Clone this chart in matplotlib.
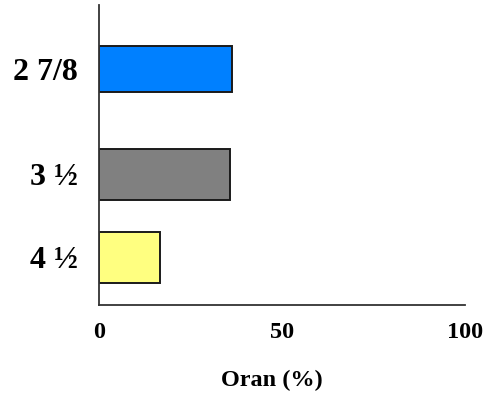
import matplotlib
matplotlib.use("Agg")
import matplotlib.pyplot as plt

# data
categories = ["2 7/8", "3 \u00bd", "4 \u00bd"]
values = [36.3, 35.8, 16.7]
colors = ["#0080ff", "#808080", "#ffff80"]
x_ticks = [0, 50, 100]

# layout (bar centres / heights in axis units, top of axis = 0)
bar_pos = [69.5, 174.5, 257.5]
bar_h = [46, 51, 51]

plt.rcParams['font.family'] = ['Liberation Serif', 'DejaVu Serif']

fig = plt.figure(figsize=(4.84, 4.03), dpi=100)
ax = fig.add_axes([99 / 484, 1 - 305 / 403, 366 / 484, 300 / 403])

ax.barh(bar_pos, values, height=bar_h, color=colors, edgecolor="#1a1a1a", linewidth=1.4)

ax.set_xlim(0, 100)
ax.set_ylim(305, 5)
ax.set_xticks(x_ticks)
ax.set_xticklabels([str(t) for t in x_ticks], fontsize=17.5, fontweight="bold")
ax.set_yticks(bar_pos)
ax.set_yticklabels(categories, fontsize=23, fontweight="bold")
ax.tick_params(axis="x", length=0, pad=12)
ax.tick_params(axis="y", length=0, pad=15)

for s in ["top", "right"]:
    ax.spines[s].set_visible(False)
for s in ["left", "bottom"]:
    ax.spines[s].set_color("#333333")
    ax.spines[s].set_linewidth(1.3)

fig.text(272 / 484, 1 - 380 / 403, "Oran (%)", ha="center", va="center",
         fontsize=17.5, fontweight="bold")

fig.savefig("out.png", dpi=100)
